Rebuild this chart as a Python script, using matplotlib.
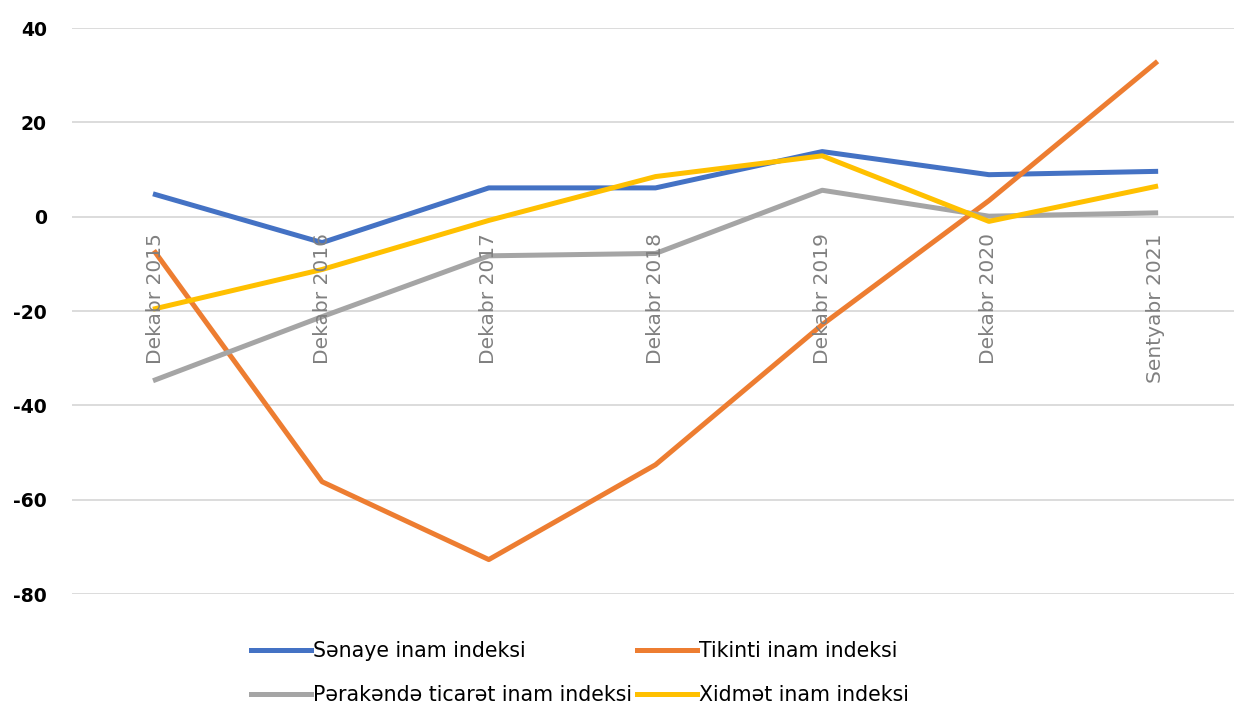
import matplotlib.pyplot as plt

# dövrlər
kateqoriyalar = ["Dekabr 2015", "Dekabr 2016", "Dekabr 2017", "Dekabr 2018",
                 "Dekabr 2019", "Dekabr 2020", "Sentyabr 2021"]

senaye = [4.7, -5.5, 6.1, 6.1, 13.8, 8.9, 9.6]
tikinti = [-7.6, -56.2, -72.7, -52.6, -22.9, 3.4, 32.6]
perakende = [-34.6, -21.2, -8.3, -7.8, 5.6, 0.1, 0.8]
xidmet = [-19.5, -11.2, -0.8, 8.5, 12.9, -1.0, 6.4]

yticks = [40, 20, 0, -20, -40, -60, -80]

fig = plt.figure(figsize=(12.34, 7.07), dpi=100)
ax = fig.add_axes([72 / 1234, 1 - 594 / 707, 1 - 72 / 1234, (594 - 28) / 707])

x = list(range(len(kateqoriyalar)))
l1, = ax.plot(x, senaye, color="#4472C4", lw=3.6, solid_joinstyle="round", label="Sənaye inam indeksi")
l2, = ax.plot(x, tikinti, color="#ED7D31", lw=3.6, solid_joinstyle="round", label="Tikinti inam indeksi")
l3, = ax.plot(x, perakende, color="#A5A5A5", lw=3.6, solid_joinstyle="round", label="Pərakəndə ticarət inam indeksi")
l4, = ax.plot(x, xidmet, color="#FFC000", lw=3.6, solid_joinstyle="round", label="Xidmət inam indeksi")

ax.set_xlim(-0.5, 6.47)
ax.set_ylim(-80, 40)
ax.set_yticks(yticks)
ax.set_yticklabels([str(v) for v in yticks], fontsize=13.5, fontweight="bold")
ax.tick_params(axis="y", length=0, pad=18)
ax.set_xticks([])
ax.grid(axis="y", color="#d9d9d9", lw=1.3)
ax.set_axisbelow(True)
for s in ax.spines.values():
    s.set_visible(False)

# kateqoriya etiketləri sıfır xəttinin altında
for i, k in enumerate(kateqoriyalar):
    ax.annotate(k, (i, 0), xytext=(0, -12), textcoords="offset points",
                rotation=90, ha="center", va="top", fontsize=14.5, color="#808080")

fig.legend([l1, l3, l2, l4], [l1.get_label(), l3.get_label(), l2.get_label(), l4.get_label()],
           ncol=2, loc="center left", bbox_to_anchor=(241 / 1234, 1 - 673 / 707),
           frameon=False, fontsize=14.8, handlelength=2.9, handletextpad=0.1,
           columnspacing=0.25, labelspacing=1.15, borderpad=0)

fig.savefig("out.png", dpi=100)
